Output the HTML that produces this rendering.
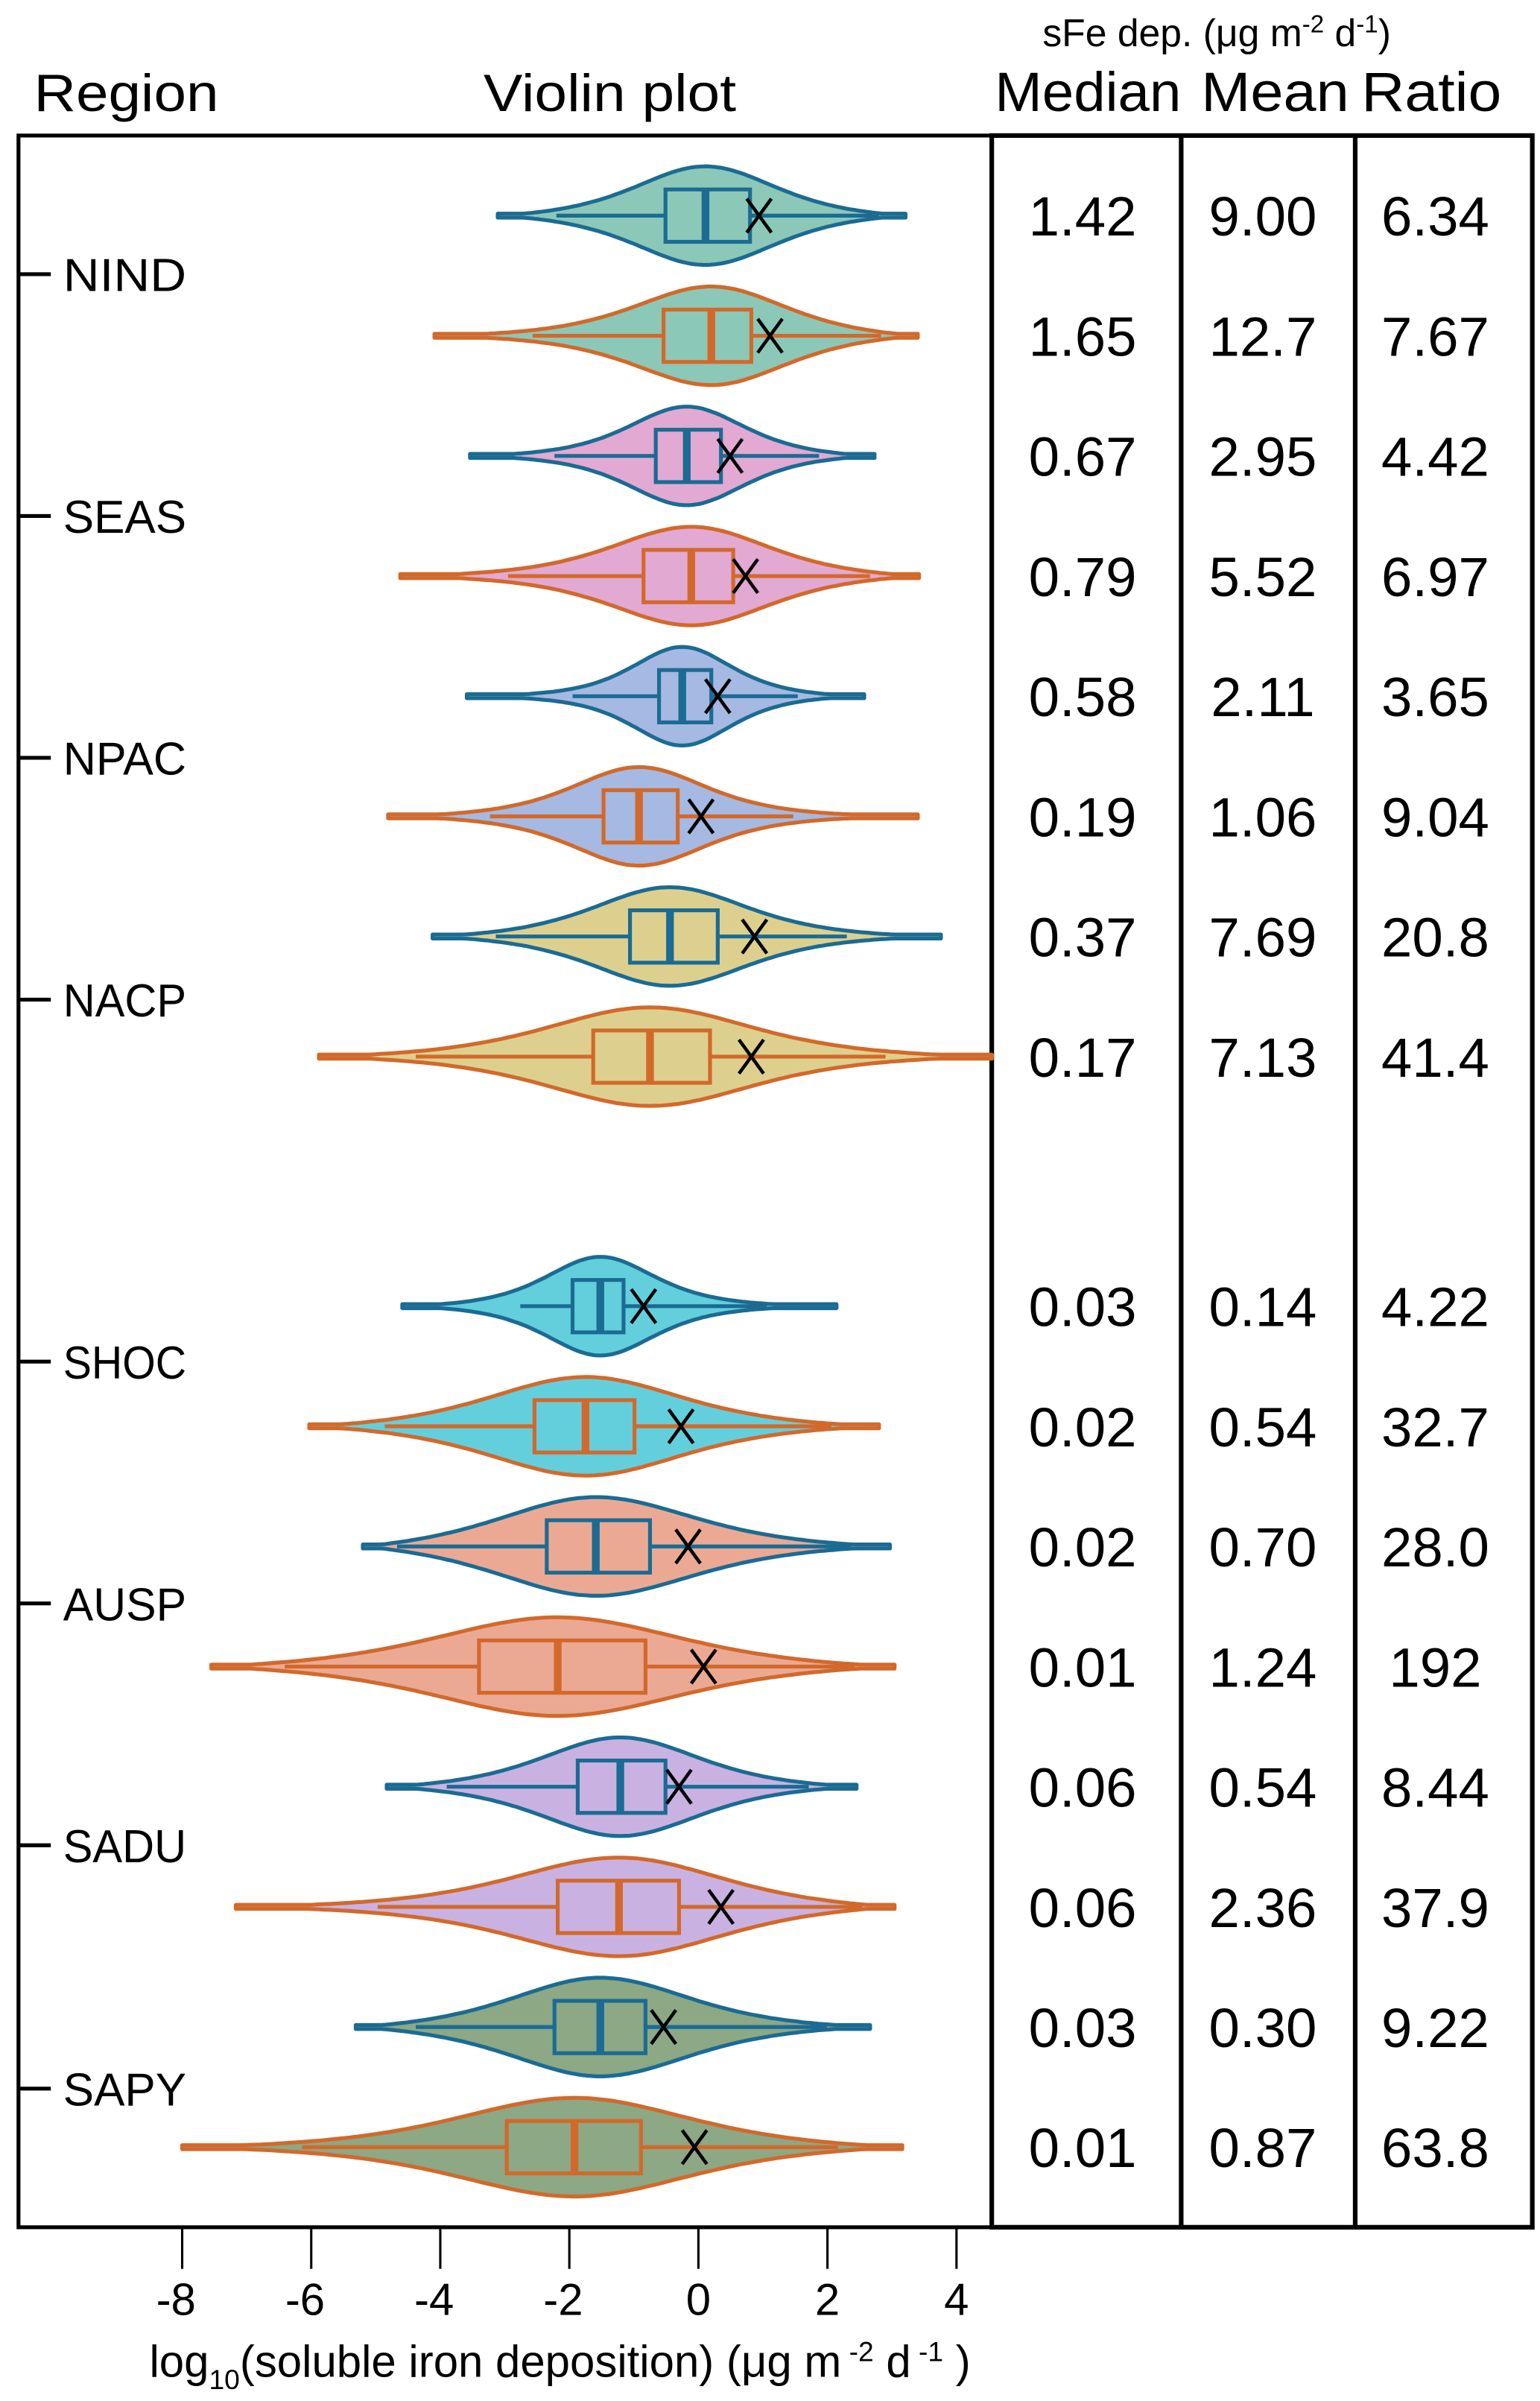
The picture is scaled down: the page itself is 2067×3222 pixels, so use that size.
<!DOCTYPE html>
<html><head><meta charset="utf-8"><style>
html,body{margin:0;padding:0;background:#fff;}
svg{display:block;font-family:"Liberation Sans",sans-serif;}
</style></head><body>
<svg id="chart" width="2067" height="3222" viewBox="0 0 1000 1558.8" preserveAspectRatio="none" xmlns="http://www.w3.org/2000/svg">
<g id="static">
<text x="22" y="72" font-size="34" textLength="120" lengthAdjust="spacingAndGlyphs">Region</text>
<text x="314" y="72" font-size="34" textLength="164" lengthAdjust="spacingAndGlyphs">Violin plot</text>
<text x="677" y="30" font-size="25">sFe dep. (μg m<tspan font-size="16" dy="-9">-2</tspan><tspan dy="9"> d</tspan><tspan font-size="16" dy="-9">-1</tspan><tspan dy="9">)</tspan></text>
<text x="646" y="72" font-size="36" textLength="121" lengthAdjust="spacingAndGlyphs">Median</text>
<text x="780" y="72" font-size="36" textLength="96" lengthAdjust="spacingAndGlyphs">Mean</text>
<text x="884" y="72" font-size="36" textLength="91" lengthAdjust="spacingAndGlyphs">Ratio</text>
<rect x="12" y="88" width="632" height="1358" fill="none" stroke="#000" stroke-width="2.5"/>
<rect x="644" y="88" width="351" height="1358" fill="none" stroke="#000" stroke-width="3"/>
<line x1="767" y1="88" x2="767" y2="1446" stroke="#000" stroke-width="3"/>
<line x1="880" y1="88" x2="880" y2="1446" stroke="#000" stroke-width="3"/>
<text x="97" y="1543" font-size="29">log<tspan font-size="18" dy="8">10</tspan><tspan dy="-8">(soluble iron deposition) (μg m</tspan><tspan font-size="18" dy="-10"> -2</tspan><tspan dy="10"> d</tspan><tspan font-size="18" dy="-10"> -1</tspan><tspan dy="10"> )</tspan></text>
</g>
<g id="marks"></g>
</svg>
<script>
const regions = ["NIND","SEAS","NPAC","NACP","SHOC","AUSP","SADU","SAPY"];
const regionY = [178,335,492,649,884,1041,1198,1356];
const xTicks = [-8,-6,-4,-2,0,2,4];
const rowY = [140,218,296,374,452,530,608,686,848,926,1004,1082,1160,1238,1316,1394];
const extMin = [-3.11,-4.09,-3.54,-4.62,-3.59,-4.81,-4.12,-5.88,-4.59,-6.03,-5.2,-7.55,-4.83,-7.17,-5.31,-8.0];
const extMax = [3.21,3.40,2.73,3.42,2.57,3.40,3.76,4.55,2.14,2.8,2.97,3.04,2.45,3.04,2.66,3.16];
const whiskLo = [-2.2,-2.57,-2.23,-2.95,-1.95,-3.23,-3.14,-4.38,-2.76,-4.86,-4.67,-6.41,-3.9,-4.97,-4.38,-6.14];
const q1 = [-0.51,-0.54,-0.66,-0.85,-0.61,-1.47,-1.06,-1.63,-1.95,-2.54,-2.35,-3.4,-1.87,-2.18,-2.23,-2.97];
const med = [0.11,0.2,-0.18,-0.11,-0.25,-0.92,-0.44,-0.75,-1.52,-1.75,-1.59,-2.18,-1.21,-1.23,-1.52,-1.92];
const q3 = [0.80,0.82,0.35,0.54,0.2,-0.32,0.3,0.18,-1.16,-0.99,-0.75,-0.82,-0.51,-0.3,-0.82,-0.89];
const whiskHi = [2.8,2.83,1.87,2.66,1.54,1.47,2.3,2.9,1.06,2.06,2.37,2.42,1.71,2.54,1.99,2.16];
const meanX = [0.94,1.11,0.49,0.73,0.3,0.04,0.87,0.82,-0.85,-0.27,-0.16,0.08,-0.3,0.35,-0.54,-0.06];
const medianVals = ["1.42","1.65","0.67","0.79","0.58","0.19","0.37","0.17","0.03","0.02","0.02","0.01","0.06","0.06","0.03","0.01"];
const meanVals = ["9.00","12.7","2.95","5.52","2.11","1.06","7.69","7.13","0.14","0.54","0.70","1.24","0.54","2.36","0.30","0.87"];
const ratioVals = ["6.34","7.67","4.42","6.97","3.65","9.04","20.8","41.4","4.22","32.7","28.0","192","8.44","37.9","9.22","63.8"];
const fills = ["#8cc8b8","#e2a9d2","#a5b9e2","#ddd08e","#63cfdd","#eba994","#c9b2e2","#8ca884"];
const strokes = ["#1b6b93","#d2692b"];

const X0 = 453.5, PX = 41.9;
function xs(v){ return X0 + v*PX; }
const NS = "http://www.w3.org/2000/svg";
const marks = document.getElementById("marks");
function mk(tag, attrs, parent){
  const e = document.createElementNS(NS, tag);
  for (const k in attrs) e.setAttribute(k, attrs[k]);
  (parent||marks).appendChild(e);
  return e;
}

regions.forEach((r,i)=>{
  const t = mk("line",{x1:12,y1:regionY[i],x2:33,y2:regionY[i],stroke:"#000","stroke-width":2.5});
  
  
  const l = mk("text",{x:41,y:regionY[i]+11,"font-size":30,textLength:r.length*20,lengthAdjust:"spacingAndGlyphs"});
  l.textContent = r;
  
  
});

xTicks.forEach(v=>{
  const t = mk("line",{x1:xs(v),y1:1446,x2:xs(v),y2:1473,stroke:"#000","stroke-width":1.5});
  
  
  const l = mk("text",{x:xs(v)-(v<0?4:0),y:1503,"font-size":29,"text-anchor":"middle"});
  l.textContent = String(v);
  
  
});

rowY.forEach((y,i)=>{
  const g = mk("g",{});
  
  
  const fill = fills[Math.floor(i/2)], st = strokes[i%2];
  const H = 32;
  const c = med[i], sig = (whiskHi[i]-whiskLo[i])/3.6;
  const bell = v => { const d=(v-c)/sig; return 1/Math.pow(1+d*d/2.5, 2.2); };
  const bLo = bell(extMin[i]), bHi = bell(extMax[i]);
  const N = 120, top=[], bot=[];
  const span = extMax[i]-extMin[i];
  for (let k=0;k<=N;k++){
    const v = extMin[i] + span*k/N;
    const be = v < c ? bLo : bHi;
    let w = H*(bell(v)-be)/(1-be);
    w = Math.max(1.3, w);
    top.push(xs(v).toFixed(1)+","+(y-w).toFixed(1));
    bot.unshift(xs(v).toFixed(1)+","+(y+w).toFixed(1));
  }
  const p = mk("path",{d:"M"+top.join("L")+"L"+bot.join("L")+"Z",fill:fill,stroke:st,"stroke-width":2.5,"stroke-linejoin":"round"},g);
  
  
  const wl = mk("line",{x1:xs(whiskLo[i]),y1:y,x2:xs(whiskHi[i]),y2:y,stroke:st,"stroke-width":2.5},g);
  
  
  const b = mk("rect",{x:xs(q1[i]),y:y-17,width:xs(q3[i])-xs(q1[i]),height:34,fill:fill,stroke:st,"stroke-width":2.5},g);
  
  
  const m = mk("line",{x1:xs(med[i]),y1:y-17,x2:xs(med[i]),y2:y+17,stroke:st,"stroke-width":5},g);
  
  
  const mx = xs(meanX[i]);
  const x1 = mk("path",{d:`M${mx-8},${y-11}L${mx+8},${y+11}M${mx+8},${y-11}L${mx-8},${y+11}`,stroke:"#000","stroke-width":2.2,fill:"none"},g);
  
  

  [[medianVals,703,'median-value'],[meanVals,820,'mean-value'],[ratioVals,932,'ratio-value']].forEach(([arr,cx,nm])=>{
    const t = mk("text",{x:cx,y:y+13,"font-size":36,"text-anchor":"middle"});
    t.textContent = arr[i];
    
    
  });
});
</script>
</body></html>
